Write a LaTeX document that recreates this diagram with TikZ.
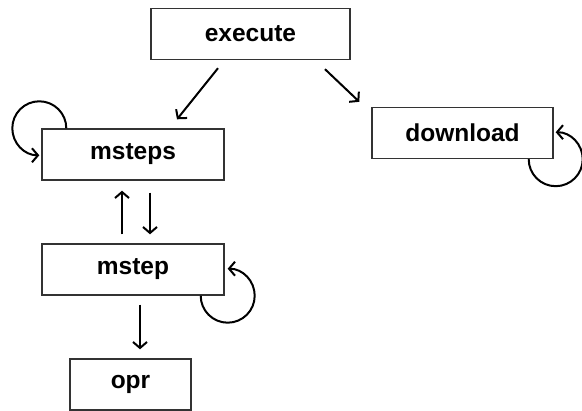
\documentclass[tikz,border=0pt]{standalone}
\usepackage{fontspec}
\setmainfont{Liberation Sans}
\usepackage{tikz}
\usetikzlibrary{positioning,arrows.meta}

\begin{document}
\begin{tikzpicture}[x=1pt,y=1pt,
  func/.style={draw=black!80,line width=1.4pt,inner sep=0pt,minimum height=51pt,
    font=\fontsize{24.5}{28}\selectfont\bfseries},
  call/.style={line width=2pt,-{Straight Barb[length=6pt,width=14pt]}}]
\useasboundingbox (0,0) rectangle (582,-411);
% the functions
\node [func,minimum width=199pt] (execute) at (250.5,-34) {execute};
\node [func,minimum width=182pt] (msteps) at (133,-154.5) {msteps};
\node [func,minimum width=181pt] (download) at (462.5,-133) {download};
\node [func,minimum width=182pt] (mstep) at (133,-269.5) {mstep};
\node [func,minimum width=121pt] (opr) at (130.5,-384.5) {opr};
% calls
\draw [call] ([shift={(-32.5,-8)}]execute.south) -- ([shift={(44,9)}]msteps.north);
\draw [call] ([shift={(74.5,-9)}]execute.south) -- ([shift={(-12,5)}]download.north west);
\draw [call] ([shift={(-11,9)}]mstep.north) -- ([shift={(-11,-10)}]msteps.south);
\draw [call] ([shift={(17,-12)}]msteps.south) -- ([shift={(17,9)}]mstep.north);
\draw [call] ([shift={(7,-9)}]mstep.south) -- ([shift={(9.5,9)}]opr.north);
% recursion
\draw [call] ([xshift=25pt]msteps.north west) arc (0:270:27);
\draw [call] ([xshift=-24pt]mstep.south east) arc (180:450:27);
\draw [call] ([xshift=-25pt]download.south east) arc (180:450:27);
\end{tikzpicture}
\end{document}
